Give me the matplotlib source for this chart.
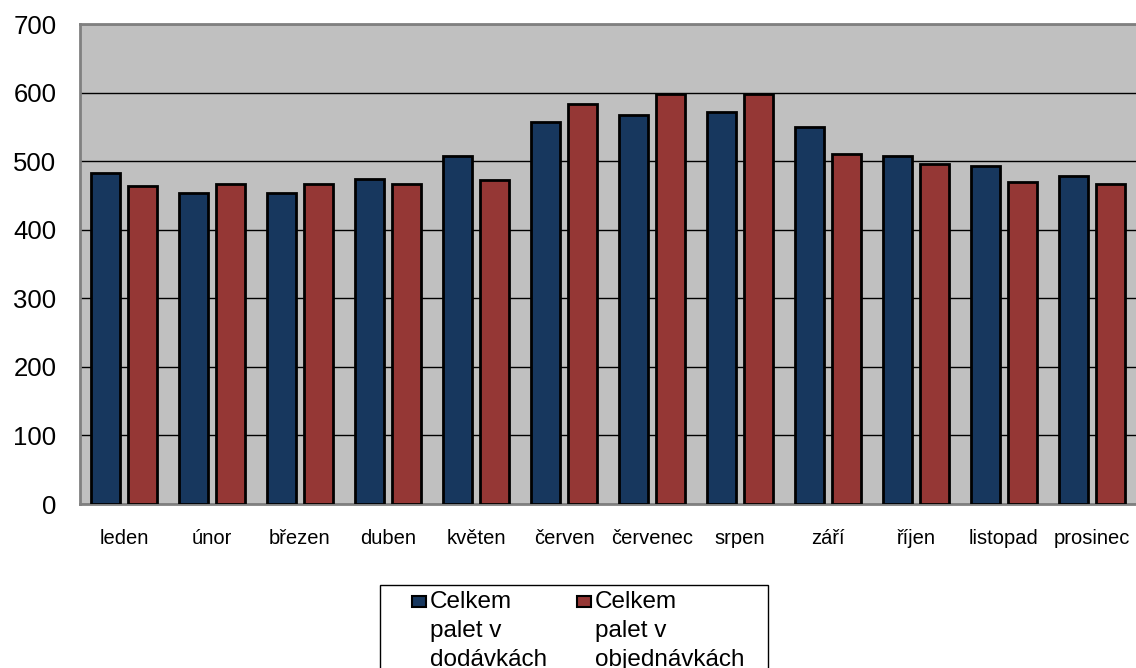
import matplotlib
matplotlib.use("Agg")
import matplotlib.pyplot as plt
from matplotlib.patches import Rectangle
import numpy as np

plt.rcParams['font.family'] = ['Liberation Sans', 'DejaVu Sans']

mesice = ["leden", "únor", "březen", "duben", "květen", "červen",
          "červenec", "srpen", "září", "říjen", "listopad", "prosinec"]
dodavky = [483, 453, 453, 474, 508, 557, 568, 572, 550, 508, 493, 479]
objednavky = [464, 467, 467, 467, 473, 584, 598, 598, 511, 496, 470, 467]
nazvy = [["Celkem", "palet v", "dodávkách"], ["Celkem", "palet v", "objednávkách"]]
barvy = ["#17375E", "#953735"]
yticks = [0, 100, 200, 300, 400, 500, 600, 700]

fig = plt.figure(figsize=(11.36, 6.68), dpi=100)
ax = fig.add_axes([80/1136, 1 - 504/668, 1 - 80/1136, 480/668])
ax.set_facecolor("#C0C0C0")

x = np.arange(len(mesice))
w = 0.34
ax.bar(x - 0.21, dodavky, w, color=barvy[0], edgecolor="black", linewidth=2, zorder=3)
ax.bar(x + 0.21, objednavky, w, color=barvy[1], edgecolor="black", linewidth=2, zorder=3)

ax.set_xlim(-0.5, len(mesice) - 0.5)
ax.set_ylim(0, 700)
ax.set_yticks(yticks)
ax.set_yticklabels([str(v) for v in yticks], fontsize=18.5)
ax.set_xticks(x)
ax.set_xticklabels(mesice, fontsize=14.5)
ax.tick_params(length=0)
ax.tick_params(axis="y", pad=17)
ax.tick_params(axis="x", pad=18)
ax.yaxis.grid(True, color="black", linewidth=1, zorder=1)
ax.set_axisbelow(True)
for s in ["left", "top", "bottom"]:
    ax.spines[s].set_color("#808080")
    ax.spines[s].set_linewidth(2)
ax.spines["right"].set_visible(False)

# legend drawn by hand so the squares sit on the first text line
W, H = 1136, 668
fig.patches.append(Rectangle((380/W, 1 - 700/H), 388/W, 115/H, transform=fig.transFigure,
                             facecolor="white", edgecolor="black", linewidth=1))
for sx, tx, c, radky in [(412, 430, barvy[0], nazvy[0]), (577, 595, barvy[1], nazvy[1])]:
    fig.patches.append(Rectangle((sx/W, 1 - 607/H), 14/W, 11/H, transform=fig.transFigure,
                                 facecolor=c, edgecolor="black", linewidth=1.5))
    for i, r in enumerate(radky):
        fig.text(tx/W, 1 - (608 + 29 * i)/H, r, fontsize=17.5, va="baseline", ha="left")

fig.savefig("out.png", dpi=100)
